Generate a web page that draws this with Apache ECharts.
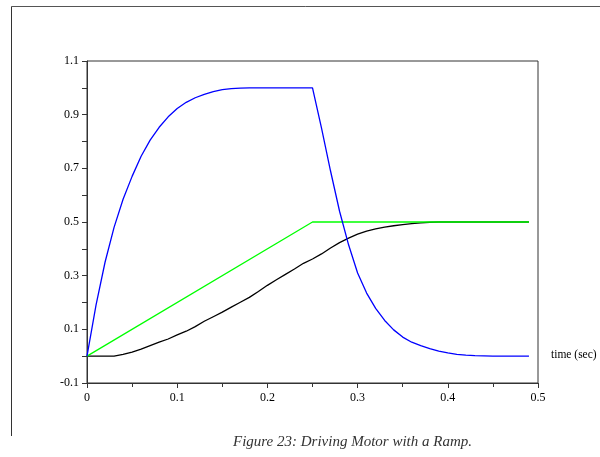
<!DOCTYPE html>
<html>
<head>
<meta charset="utf-8">
<script src="https://cdn.jsdelivr.net/npm/echarts@6/dist/echarts.min.js"></script>
<style>
html,body{margin:0;padding:0;background:#fff;}
#chart{width:600px;height:457px;}
</style>
</head>
<body>
<div id="chart"></div>
<script>
// time samples (sec)
const times = [0,0.01,0.02,0.03,0.04,0.05,0.06,0.07,0.08,0.09,
  0.10,0.11,0.12,0.13,0.14,0.15,0.16,0.17,0.18,0.19,
  0.20,0.21,0.22,0.23,0.24,0.25,0.26,0.27,0.28,0.29,
  0.30,0.31,0.32,0.33,0.34,0.35,0.36,0.37,0.38,0.39,
  0.40,0.41,0.42,0.43,0.44,0.45,0.46,0.47,0.48,0.49];
// blue curve
const blueVals = [0,0.19,0.35,0.48,0.585,0.67,0.745,0.805,0.853,0.892,
  0.923,0.946,0.963,0.976,0.986,0.993,0.997,0.999,1.0,1.0,
  1.0,1.0,1.0,1.0,1.0,1.0,0.85,0.69,0.54,0.415,
  0.31,0.235,0.178,0.133,0.098,0.071,0.052,0.039,0.028,0.019,
  0.012,0.007,0.004,0.002,0.001,0,0,0,0,0];
// black curve
const blackVals = [0,0,0,0,0.007,0.015,0.026,0.039,0.052,0.064,
  0.079,0.093,0.11,0.13,0.147,0.164,0.183,0.201,0.219,0.241,
  0.264,0.285,0.305,0.325,0.346,0.362,0.381,0.403,0.423,0.44,
  0.455,0.466,0.474,0.481,0.486,0.49,0.494,0.497,0.499,0.5,
  0.5,0.5,0.5,0.5,0.5,0.5,0.5,0.5,0.5,0.5];
// green ramp
const greenTimes = [0,0.25,0.49];
const greenVals = [0,0.5,0.5];
// axis tick labels
const xTicks = [0,0.1,0.2,0.3,0.4,0.5];
const yTicks = [-0.1,0.1,0.3,0.5,0.7,0.9,1.1];

const captionText = 'Figure 23: Driving Motor with a Ramp.';
const xName = 'time (sec)';

function pairs(xs, ys){ return xs.map((x,i)=>[x, ys[i]]); }

const SERIF = '"Liberation Serif", "Times New Roman", "DejaVu Serif", serif';
const chart = echarts.init(document.getElementById('chart'));
const axisFont = {fontFamily:SERIF, fontSize:12, color:'#000'};
chart.setOption({
  animation:false,
  backgroundColor:'#fff',
  grid:{left:87, top:61, right:62, bottom:74, show:true, borderColor:'#333', borderWidth:1, backgroundColor:'transparent'},
  xAxis:{
    type:'value', min:0, max:0.5, interval:0.1,
    axisLine:{show:true, onZero:false, lineStyle:{color:'#333', width:1}},
    axisTick:{show:true, length:5, lineStyle:{color:'#333'}},
    minorTick:{show:true, splitNumber:2, length:4, lineStyle:{color:'#333'}},
    splitLine:{show:false},
    axisLabel:Object.assign({margin:9, formatter:function(v){
      const r = Math.round(v*10)/10; return xTicks.indexOf(r)>=0 ? String(r) : '';
    }}, axisFont)
  },
  yAxis:{
    type:'value', min:-0.1, max:1.1, interval:0.1,
    axisLine:{show:true, onZero:false, lineStyle:{color:'#333', width:1}},
    axisTick:{show:true, length:5, lineStyle:{color:'#333'}},
    splitLine:{show:false},
    axisLabel:Object.assign({margin:8, formatter:function(v){
      const r = Math.round(v*10)/10; return yTicks.indexOf(r)>=0 ? String(r) : '';
    }}, axisFont)
  },
  series:[
    {type:'line', data:pairs(times, blackVals), showSymbol:false, lineStyle:{color:'#000', width:1.3}, z:2},
    {type:'line', data:pairs(greenTimes, greenVals), showSymbol:false, lineStyle:{color:'#00ff00', width:1.3}, z:3},
    {type:'line', data:pairs(times, blueVals), showSymbol:false, lineStyle:{color:'#0000ff', width:1.3}, z:4}
  ],
  graphic:[
    {type:'line', shape:{x1:11.5, y1:6.5, x2:600, y2:6.5}, style:{stroke:'#555', lineWidth:1}},
    {type:'line', shape:{x1:11.5, y1:6.5, x2:11.5, y2:436}, style:{stroke:'#333', lineWidth:1}},
    {type:'text', left:551, top:349, style:{text:xName, fontFamily:SERIF, fontSize:11.5, fill:'#000'}},
    {type:'text', left:233, top:435, style:{text:captionText, fontFamily:SERIF, fontStyle:'italic', fontSize:15, fill:'#333'}}
  ]
});
</script>
</body>
</html>
